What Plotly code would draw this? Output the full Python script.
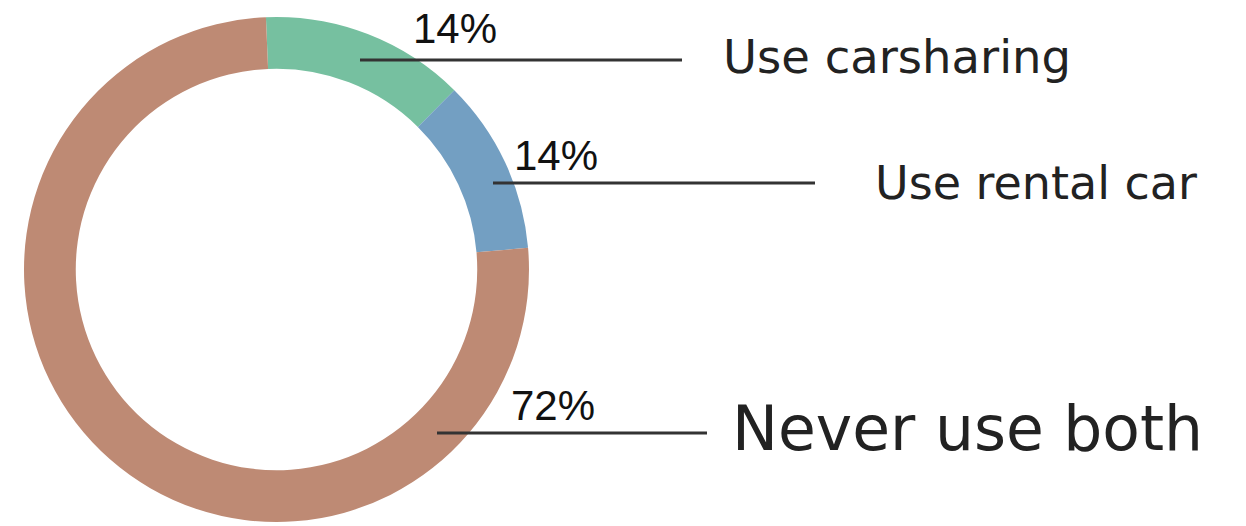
import plotly.graph_objects as go

labels = ["Use carsharing", "Use rental car", "Never use both"]
values = [13.1, 11.2, 75.7]          # arc shares as drawn in the picture
pct_labels = ["14%", "14%", "72%"]   # printed percentages
colors = ["#76c0a0", "#739fc2", "#be8a74"]

W, H = 1246, 526

def px(x):
    return x / W

def py(y):
    return 1 - y / H

fig = go.Figure(go.Pie(
    labels=labels, values=values, hole=0.795, sort=False,
    direction="clockwise", rotation=-2.4,
    marker=dict(colors=colors, line=dict(width=0)),
    textinfo="none", hoverinfo="label", showlegend=False,
    domain=dict(x=[px(24), px(529)], y=[py(522), py(17)]),
))

# leader lines (pixel positions) and labels
lines = [(360, 682, 60), (493, 815, 183), (437, 707, 433)]
pct_pos = [(411, 28), (512, 155), (509, 405)]
lab_pos = [(721, 57), (873, 183), (730, 429)]
lab_size = [46.5, 46, 61.5]

shapes = []
annotations = []
for i, lab in enumerate(labels):
    x0, x1, y = lines[i]
    shapes.append(dict(type="line", xref="paper", yref="paper",
                       x0=px(x0), x1=px(x1), y0=py(y), y1=py(y),
                       line=dict(color="#333333", width=3)))
    annotations.append(dict(text=pct_labels[i], xref="paper", yref="paper",
                            x=px(pct_pos[i][0]), y=py(pct_pos[i][1]),
                            xanchor="left", yanchor="middle", showarrow=False,
                            font=dict(family="Liberation Sans", size=42, color="#111111")))
    annotations.append(dict(text=lab, xref="paper", yref="paper",
                            x=px(lab_pos[i][0]), y=py(lab_pos[i][1]),
                            xanchor="left", yanchor="middle", showarrow=False,
                            font=dict(family="DejaVu Sans", size=lab_size[i], color="#222222")))

fig.update_layout(width=W, height=H, margin=dict(l=0, r=0, t=0, b=0),
                  paper_bgcolor="white", plot_bgcolor="white",
                  shapes=shapes, annotations=annotations)

fig.write_html("out.html")
